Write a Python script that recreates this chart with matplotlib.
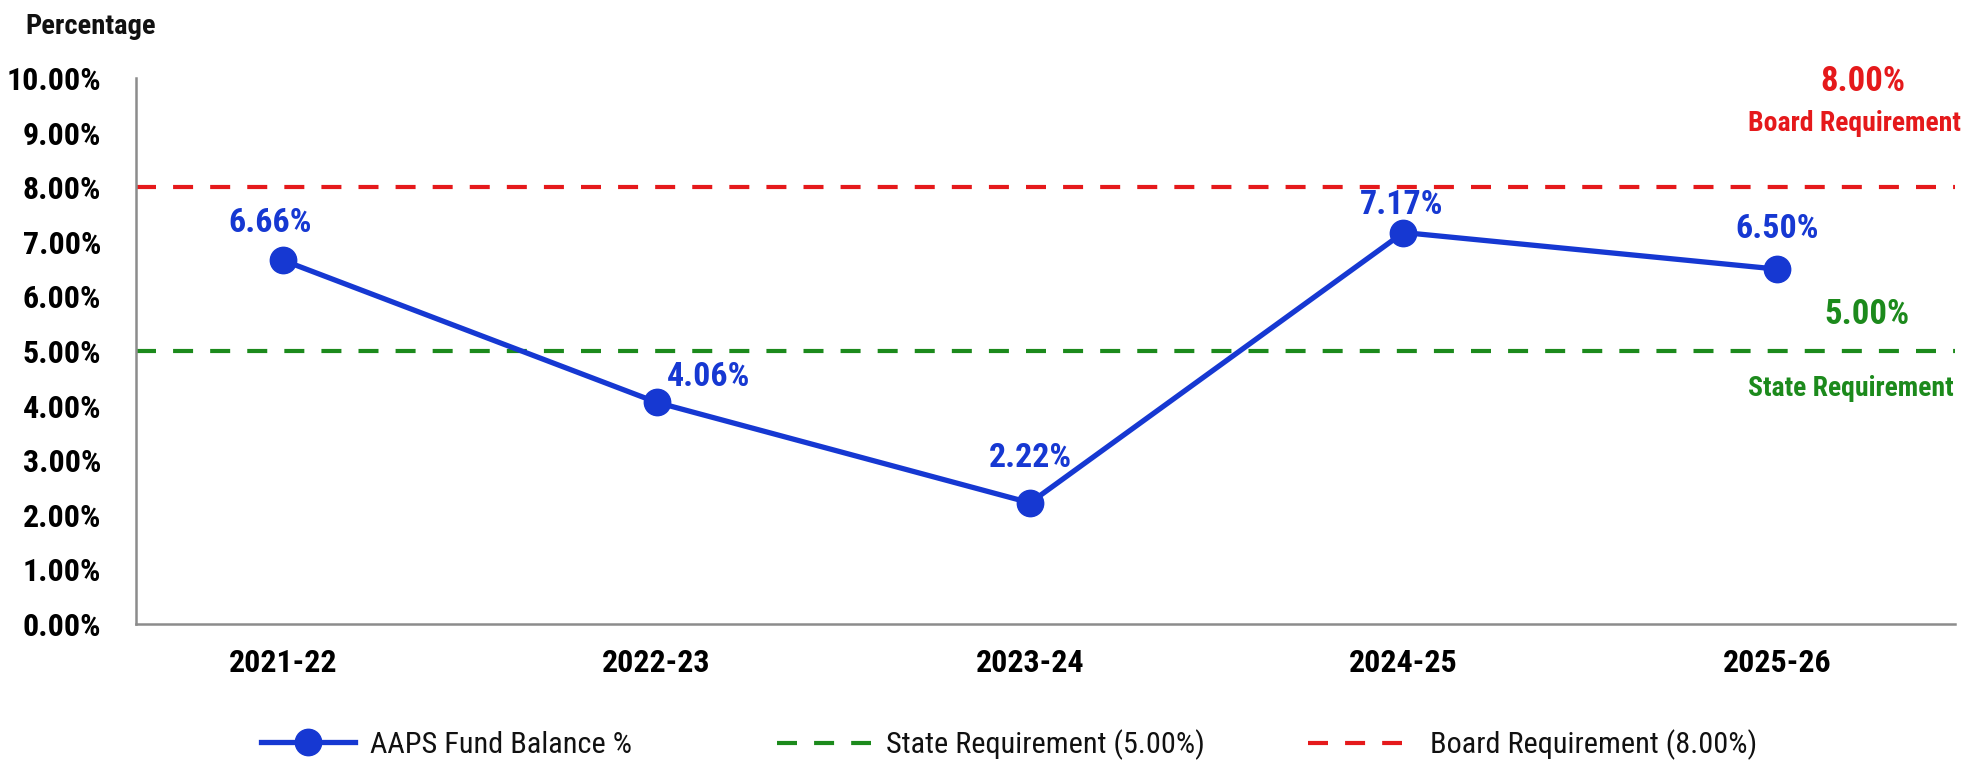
import matplotlib
matplotlib.use("Agg")
import matplotlib.pyplot as plt
from matplotlib.lines import Line2D

# Fund balance as a share of expenditures, by fiscal year
years = ["2021-22", "2022-23", "2023-24", "2024-25", "2025-26"]
fund_balance = [6.66, 4.06, 2.22, 7.17, 6.50]
state_requirement = 5.00
board_requirement = 8.00
y_ticks = [0, 1, 2, 3, 4, 5, 6, 7, 8, 9, 10]

series_label = "AAPS Fund Balance %"
state_label = "State Requirement (5.00%)"
board_label = "Board Requirement (8.00%)"

BLUE = "#1638d2"
GREEN = "#1c8a1c"
RED = "#e5191b"
AXIS_GRAY = "#8c8c8c"

plt.rcParams["font.family"] = ["Liberation Sans Narrow", "Roboto Condensed",
                               "DejaVu Sans"]

fig = plt.figure(figsize=(19.86, 7.60), dpi=100)
fig.patch.set_facecolor("white")
ax = fig.add_axes([0.0685, 0.1789, 0.9159, 0.7185])

x = list(range(len(years)))

# requirement thresholds
dash = (0, (4.8, 4.1))
ax.axhline(board_requirement, color=RED, lw=3.0, ls=dash, zorder=1)
ax.axhline(state_requirement, color=GREEN, lw=3.0, ls=dash, zorder=1)

# fund balance series
ax.plot(x, fund_balance, color=BLUE, lw=3.8, marker="o", ms=19,
        markeredgecolor=BLUE, zorder=3)

# value labels (offsets in pixels from each point)
label_offsets = [(-13, 37), (52, 25), (0, 45), (-2, 28), (0, 40)]
for xi, v, off in zip(x, fund_balance, label_offsets):
    ax.annotate(f"{v:.2f}%", xy=(xi, v), xytext=off,
                textcoords="offset pixels", ha="center", va="center",
                color=BLUE, fontsize=24.5, fontweight="bold", zorder=4)

# threshold annotations at the right edge
xr = 4.22
ax.annotate(f"{board_requirement:.2f}%", xy=(xr, board_requirement),
            xytext=(4, 106), textcoords="offset pixels", ha="center",
            va="center", color=RED, fontsize=25, fontweight="bold")
ax.annotate("Board Requirement", xy=(xr, board_requirement),
            xytext=(-5, 64), textcoords="offset pixels", ha="center",
            va="center", color=RED, fontsize=20, fontweight="bold")
ax.annotate(f"{state_requirement:.2f}%", xy=(xr, state_requirement),
            xytext=(8, 37), textcoords="offset pixels", ha="center",
            va="center", color=GREEN, fontsize=25, fontweight="bold")
ax.annotate("State Requirement", xy=(xr, state_requirement),
            xytext=(-8, -37), textcoords="offset pixels", ha="center",
            va="center", color=GREEN, fontsize=20, fontweight="bold")

# axes
ax.set_xlim(-0.394, 4.477)
ax.set_ylim(0, 10)
ax.set_xticks(x)
ax.set_xticklabels(years, fontsize=23, fontweight="bold")
ax.set_yticks(y_ticks)
ax.set_yticklabels([f"{t:.2f}%" for t in y_ticks], fontsize=23,
                   fontweight="bold")
ax.tick_params(axis="y", length=0, pad=25)
ax.tick_params(axis="x", length=0, pad=17)
for side in ("top", "right"):
    ax.spines[side].set_visible(False)
for side in ("left", "bottom"):
    ax.spines[side].set_color(AXIS_GRAY)
    ax.spines[side].set_linewidth(1.8)
ax.set_facecolor("white")

fig.text(25 / 1986, 1 - 27 / 760, "Percentage", ha="left", va="center",
         fontsize=20.5, fontweight="bold", color="#111111")

# legend: three entries laid out along the bottom
# (handle, label, left edge in px, gap between handle and text)
handles = [
    (Line2D([], [], color=BLUE, lw=3.8, marker="o", ms=19), series_label,
     261, 0.5),
    (Line2D([], [], color=GREEN, lw=3.0, ls=dash), state_label, 777, 0.5),
    (Line2D([], [], color=RED, lw=3.0, ls=dash), board_label, 1308, 0.92),
]
for h, lab, px, pad in handles:
    leg = fig.legend([h], [lab], loc="center left",
                     bbox_to_anchor=(px / 1986, 1 - 745 / 760),
                     frameon=False, fontsize=21.8, handlelength=3.1,
                     handletextpad=pad, borderpad=0, borderaxespad=0)
    for t in leg.get_texts():
        t.set_color("#111111")

fig.savefig("out.png", dpi=100, facecolor="white")
